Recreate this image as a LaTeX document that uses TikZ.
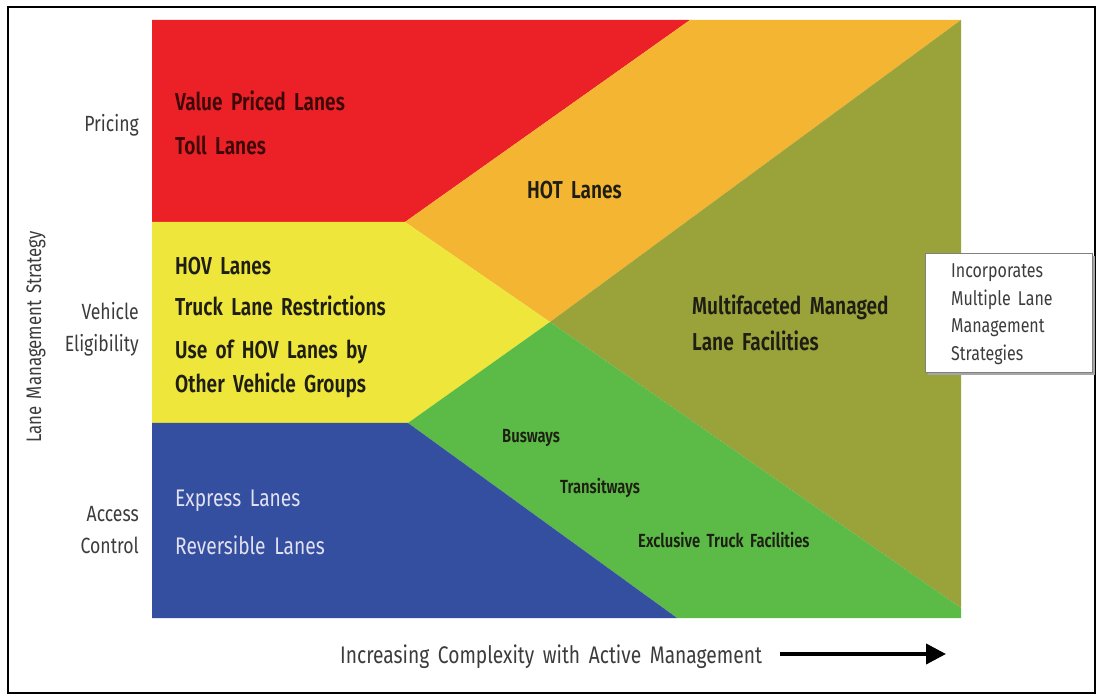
\documentclass[tikz,border=0pt]{standalone}
\usepackage{fontspec}
\setmainfont{Fira Sans}[FakeStretch=0.8,WordSpace=1.7]
\newfontfamily\boldcond{Fira Sans SemiBold}[FakeStretch=0.78,WordSpace=1.8]
\usetikzlibrary{arrows.meta}
\definecolor{cred}{RGB}{236,33,39}
\definecolor{corange}{RGB}{244,181,51}
\definecolor{cyellow}{RGB}{238,230,58}
\definecolor{colive}{RGB}{154,162,58}
\definecolor{cgreen}{RGB}{91,187,70}
\definecolor{cblue}{RGB}{52,78,160}
\definecolor{tmaroon}{RGB}{60,8,8}
\definecolor{tdark}{RGB}{30,30,20}
\definecolor{tgray}{RGB}{60,60,60}
\definecolor{tlight}{RGB}{225,225,240}
\begin{document}
\begin{tikzpicture}[x=1pt,y=-1pt,
  lab/.style={inner sep=0pt,anchor=west,font=\boldcond\fontsize{24.5}{26}\selectfont,text=tdark},
  smalllab/.style={lab,font=\boldcond\fontsize{19}{21}\selectfont},
  axlab/.style={inner sep=0pt,anchor=east,align=right,font=\fontsize{22}{32}\selectfont,text=tgray},
]
\useasboundingbox (0,0) rectangle (1101,700);
\fill[white] (0,0) rectangle (1101,700);
\draw[line width=2pt] (8,7) rectangle (1095,693);
% regions
\fill[cred] (152,20) -- (690,20) -- (405,222) -- (152,222) -- cycle;
\fill[corange] (690,20) -- (961,20) -- (550,322) -- (405,222) -- cycle;
\fill[cyellow] (152,222) -- (405,222) -- (550,322) -- (408,423) -- (152,423) -- cycle;
\fill[colive] (961,20) -- (961,608) -- (550,322) -- cycle;
\fill[cgreen] (550,322) -- (961,608) -- (961,618) -- (677,618) -- (408,423) -- cycle;
\fill[cblue] (152,423) -- (408,423) -- (677,618) -- (152,618) -- cycle;
% region labels
\node[lab,text=tmaroon] (vpl) at (175,101) {Value Priced Lanes};
\node[lab,text=tmaroon] (tl) at (175,145) {Toll Lanes};
\node[lab] (hot) at (527,190) {HOT Lanes};
\node[lab] (hov) at (175,266) {HOV Lanes};
\node[lab] (tlr) at (175,306) {Truck Lane Restrictions};
\node[lab] (uhov) at (175,352) {Use of HOV Lanes by};
\node[lab] (ovg) at (175,385) {Other Vehicle Groups};
\node[lab] (mmf) at (692,307) {Multifaceted Managed};
\node[lab] (lf) at (692,341) {Lane Facilities};
\node[smalllab] (bus) at (502,438) {Busways};
\node[smalllab] (trans) at (560,488) {Transitways};
\node[smalllab] (etf) at (638,540) {Exclusive Truck Facilities};
\node[lab,text=tlight,font=\fontsize{24}{26}\selectfont] (exp) at (175,501) {Express Lanes};
\node[lab,text=tlight,font=\fontsize{24}{26}\selectfont] (rev) at (175,545) {Reversible Lanes};
% axis labels
\node[axlab] (pricing) at (139,125) {Pricing};
\node[axlab] (veh) at (139,329) {Vehicle\\Eligibility};
\node[axlab] (acc) at (139,530) {Access\\Control};
\node[inner sep=0pt,rotate=90,font=\fontsize{21}{24}\selectfont,text=tgray] (lms) at (36,337) {Lane Management Strategy};
% box
\fill[gray!70] (928,256) rectangle (1095,375);
\node[draw=gray,line width=1.2pt,fill=white,minimum width=167pt,minimum height=119pt,anchor=north west,inner sep=0pt] (box) at (925,253) {};
\node[inner sep=0pt,anchor=north west,align=left,font=\fontsize{20}{27.5}\selectfont,text=tgray] (boxtext) at (951,264) {Incorporates\\Multiple Lane\\Management\\Strategies};
% bottom
\node[inner sep=0pt,font=\fontsize{24}{26}\selectfont,text=tgray,anchor=west] (inc) at (340,657) {Increasing Complexity with Active Management};
\coordinate (a1) at (780,654);
\coordinate (a2) at (946,654);
\draw[line width=4pt,-{Triangle[length=20pt,width=20pt]}] (a1) -- (a2);
\end{tikzpicture}
\end{document}
